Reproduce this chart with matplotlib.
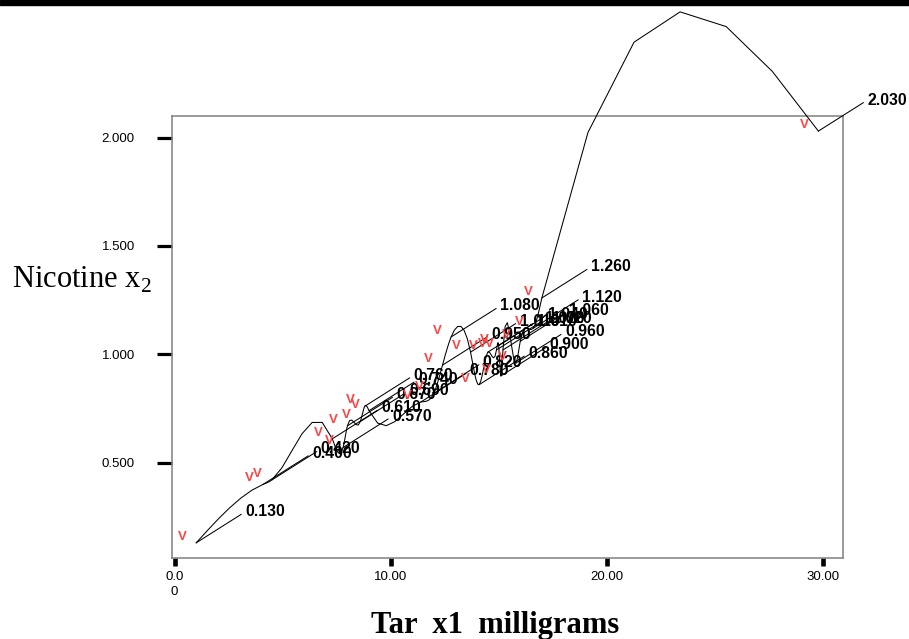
import numpy as np
import matplotlib.pyplot as plt
from matplotlib.patches import Rectangle

plt.rcParams['mathtext.fontset'] = 'custom'
plt.rcParams['mathtext.rm'] = 'Liberation Serif'

# tar (mg) and nicotine (mg) of 25 cigarette brands
tar = [14.1, 16.0, 29.8, 8.0, 4.1, 15.0, 8.8, 12.4, 16.6, 14.9, 13.7, 15.1, 7.8,
       11.4, 9.0, 1.0, 17.0, 12.8, 15.8, 4.5, 14.5, 7.3, 8.6, 15.2, 12.0]
nicotine = [0.86, 1.06, 2.03, 0.67, 0.40, 1.04, 0.76, 0.95, 1.12, 1.02, 1.01, 0.90, 0.57,
            0.78, 0.74, 0.13, 1.26, 1.08, 0.96, 0.42, 1.01, 0.61, 0.69, 1.02, 0.82]

x_ticks = [0, 10, 20, 30]
x_ticklabels = ['0.0\n0', '10.00', '20.00', '30.00']
y_ticks = [0.5, 1.0, 1.5, 2.0]
y_ticklabels = ['0.500', '1.000', '1.500', '2.000']


def natural_spline(x, y, nsub=6):
	n = len(x)
	h = np.diff(x)
	A = np.zeros((n, n))
	rhs = np.zeros(n)
	A[0, 0] = 1
	A[-1, -1] = 1
	for i in range(1, n - 1):
		A[i, i - 1] = h[i - 1]
		A[i, i] = 2 * (h[i - 1] + h[i])
		A[i, i + 1] = h[i]
		rhs[i] = 6 * ((y[i + 1] - y[i]) / h[i] - (y[i] - y[i - 1]) / h[i - 1])
	M = np.linalg.solve(A, rhs)
	xs, ys = [], []
	for i in range(n - 1):
		t = np.linspace(x[i], x[i + 1], nsub + 1)
		if i > 0:
			t = t[1:]
		x0, x1, hi = x[i], x[i + 1], h[i]
		s = (M[i] * (x1 - t) ** 3 / (6 * hi) + M[i + 1] * (t - x0) ** 3 / (6 * hi)
			 + (y[i] / hi - M[i] * hi / 6) * (x1 - t) + (y[i + 1] / hi - M[i + 1] * hi / 6) * (t - x0))
		xs.extend(t)
		ys.extend(s)
	return np.array(xs), np.array(ys)


order = np.argsort(tar)
xs_sorted = np.array(tar)[order]
ys_sorted = np.array(nicotine)[order]
cx, cy = natural_spline(xs_sorted, ys_sorted)

fig = plt.figure(figsize=(9.09, 6.39), dpi=100)
fig.patches.append(Rectangle((0, 1 - 4.5 / 639), 1, 4.5 / 639, transform=fig.transFigure,
							 color='black', zorder=0))
ax = fig.add_axes([172 / 909, 1 - 558 / 639, (843 - 172) / 909, (558 - 116) / 639])
ax.set_xlim(-0.12, 30.94)
ax.set_ylim(0.06, 2.0997)

ax.plot(cx, cy, color='black', lw=0.75, clip_on=False, zorder=3)

for xv, yv in zip(tar, nicotine):
	ax.annotate('%.3f' % yv, xy=(xv, yv), xytext=(49, 31), textcoords='offset pixels',
				ha='left', va='center', fontsize=11.3, fontweight='bold',
				family='Liberation Sans', color='black', annotation_clip=False, zorder=4,
				arrowprops=dict(arrowstyle='-', color='black', lw=0.75, shrinkA=1, shrinkB=0,
								relpos=(0, 0.5)))
	ax.annotate('V', xy=(xv, yv), xytext=(-14, 6), textcoords='offset pixels',
				ha='center', va='center', fontsize=9.5, fontweight='bold', color='#ff4242',
				family='Liberation Sans', annotation_clip=False, zorder=5)

ax.set_xticks(x_ticks)
ax.set_xticklabels(x_ticklabels, family='Liberation Sans', fontsize=9.5, linespacing=1.3)
ax.set_yticks(y_ticks)
ax.set_yticklabels(y_ticklabels, family='Liberation Sans', fontsize=9.5)
ax.tick_params(axis='y', direction='out', length=10.8, width=2.3, color='black', pad=16)
ax.tick_params(axis='x', direction='out', length=5.8, width=3.3, color='black', pad=3.5)
for sp in ax.spines.values():
	sp.set_color('#808080')
	sp.set_linewidth(1.1)

fig.text(12 / 909, 1 - 288 / 639, r'Nicotine x$_{\mathrm{2}}$', family='Liberation Serif',
		 fontsize=22, ha='left', va='baseline')
fig.text(495 / 909, 1 - 633 / 639, 'Tar  x1  milligrams', family='Liberation Serif',
		 fontsize=22, fontweight='bold', ha='center', va='baseline')

fig.savefig('out.png', dpi=100)
